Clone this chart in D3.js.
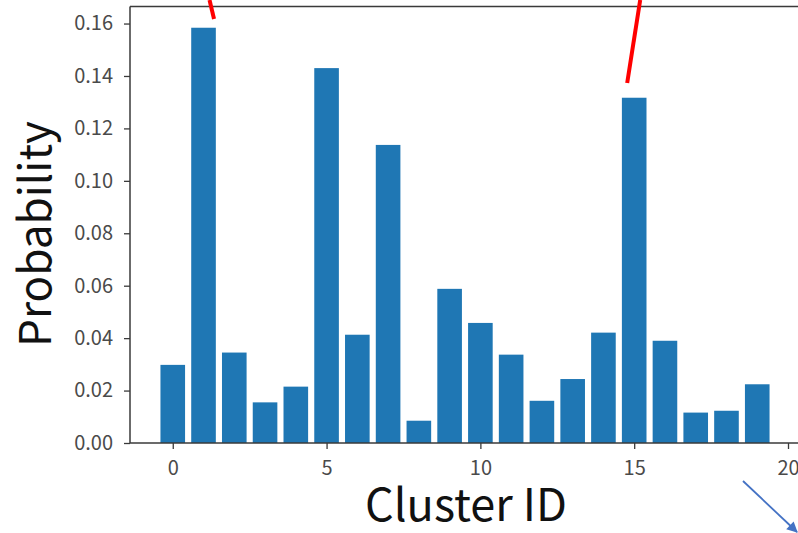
<!DOCTYPE html>
<html>
<head>
<meta charset="utf-8">
<script src="https://cdn.jsdelivr.net/npm/d3@7/dist/d3.min.js"></script>
<style>
  html, body { margin: 0; padding: 0; background: #fff; }
  svg { display: block; }
  text { font-family: "Noto Sans CJK KR", "Noto Sans", sans-serif; }
</style>
</head>
<body>
<svg id="chart" width="798" height="533"></svg>
<script>
// ---- data ----
const clusterIds = d3.range(20);
const probabilities = [0.0298, 0.1584, 0.0345, 0.0155, 0.0215, 0.1430, 0.0413, 0.1137, 0.0085, 0.0588,
                       0.0458, 0.0337, 0.0161, 0.0244, 0.0421, 0.1317, 0.0390, 0.0116, 0.0123, 0.0224];
const xTicks = [0, 5, 10, 15, 20];
const yTicks = [0, 0.02, 0.04, 0.06, 0.08, 0.10, 0.12, 0.14, 0.16];
const xLabel = "Cluster ID";
const yLabel = "Probability";

(function () {
// ---- layout ----
const svg = d3.select("#chart");
const pLeft = 130, pRight = 800, pTop = 6.5, pBottom = 443;
const x = d3.scaleLinear().domain([-1.39, 20.39]).range([pLeft, pRight]);
const y = d3.scaleLinear().domain([0, 0.1665]).range([pBottom, pTop]);
const barW = 0.8;

// bars
svg.append("g").selectAll("rect").data(clusterIds).join("rect")
  .attr("x", d => x(d - barW / 2))
  .attr("width", d => x(d + barW / 2) - x(d - barW / 2))
  .attr("y", d => y(probabilities[d]))
  .attr("height", d => y(0) - y(probabilities[d]))
  .attr("fill", "#1f77b4");

// axes
const axisColor = "#3a3a3a";
const xAxis = svg.append("g").attr("transform", `translate(0,${pBottom})`)
  .call(d3.axisBottom(x).tickValues(xTicks).tickFormat(d3.format("d")).tickSize(6).tickPadding(12));
const yAxis = svg.append("g").attr("transform", `translate(${pLeft},0)`)
  .call(d3.axisLeft(y).tickValues(yTicks).tickFormat(d3.format(".2f")).tickSize(6).tickPadding(11));
[xAxis, yAxis].forEach(g => {
  g.select(".domain").remove();
  g.selectAll(".tick line").attr("stroke", axisColor).attr("stroke-width", 1.3);
  g.selectAll(".tick text").attr("fill", "#4a4a4a").style("font-size", "20px");
});

// spines
svg.append("line").attr("x1", pLeft).attr("x2", pLeft).attr("y1", pTop).attr("y2", pBottom)
  .attr("stroke", axisColor).attr("stroke-width", 1.5);
svg.append("line").attr("x1", pLeft).attr("x2", pRight).attr("y1", pBottom).attr("y2", pBottom)
  .attr("stroke", axisColor).attr("stroke-width", 1.5);
svg.append("line").attr("x1", pLeft).attr("x2", pRight).attr("y1", pTop).attr("y2", pTop)
  .attr("stroke", axisColor).attr("stroke-width", 1.5);

// axis labels
svg.append("text").attr("x", 466).attr("y", 521).attr("text-anchor", "middle")
  .attr("fill", "#111").style("font-size", "45px").text(xLabel);
svg.append("text").attr("transform", "translate(51,234) rotate(-90)").attr("text-anchor", "middle")
  .attr("fill", "#111").style("font-size", "44px").text(yLabel);

// annotation lines (red) pointing to the highest bars
svg.append("line").attr("x1", x(1) + 6).attr("y1", 0).attr("x2", x(1) + 10.5).attr("y2", 19)
  .attr("stroke", "#ff0000").attr("stroke-width", 4);
svg.append("line").attr("x1", x(15) + 6).attr("y1", 0).attr("x2", x(15) - 7).attr("y2", 83)
  .attr("stroke", "#ff0000").attr("stroke-width", 4);

// blue arrow at bottom right
const defs = svg.append("defs");
defs.append("marker").attr("id", "ah").attr("viewBox", "0 0 10 10").attr("refX", 9).attr("refY", 5)
  .attr("markerWidth", 7).attr("markerHeight", 6).attr("orient", "auto")
  .append("path").attr("d", "M0,0 L10,5 L0,10 z").attr("fill", "#4472c4");
svg.append("line").attr("x1", 743).attr("y1", 481).attr("x2", 797).attr("y2", 532)
  .attr("stroke", "#4472c4").attr("stroke-width", 1.8).attr("marker-end", "url(#ah)");
})();
</script>
</body>
</html>
